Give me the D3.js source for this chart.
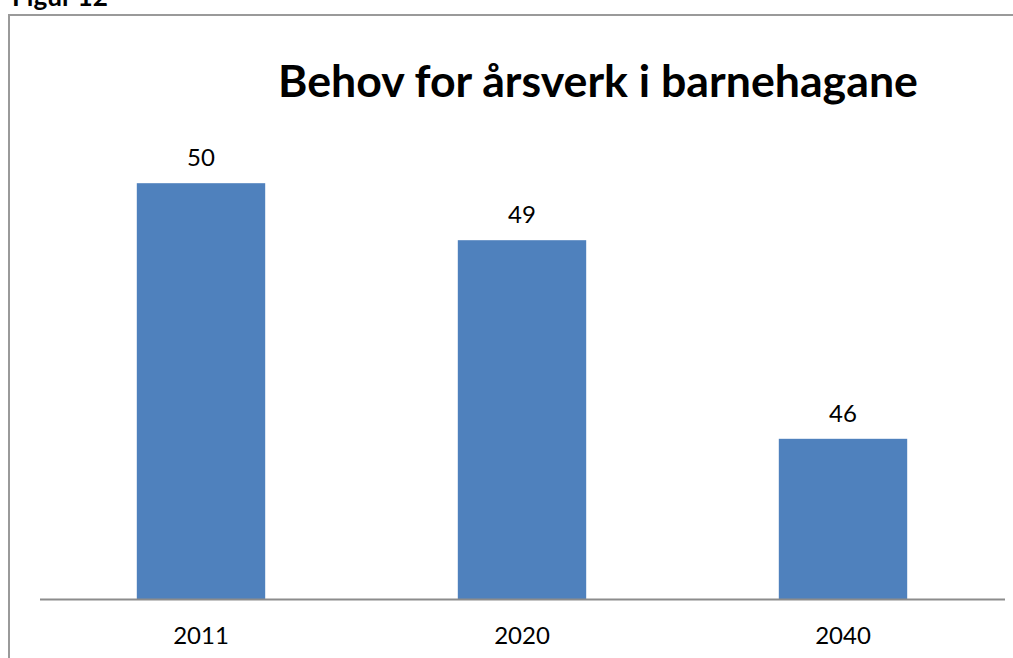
<!DOCTYPE html>
<html><head><meta charset="utf-8">
<script src="https://cdn.jsdelivr.net/npm/d3@7/dist/d3.min.js"></script>
<style>html,body{margin:0;padding:0;background:#fff;}</style>
</head><body>
<svg id="c" width="1013" height="658"></svg>
<script>
const categories = ["2011", "2020", "2040"];
const values = [49.93, 48.98, 45.67];
const valueLabels = ["50", "49", "46"];
const title = "Behov for årsverk i barnehagane";
const figLabel = "Figur 12";

const svg = d3.select("#c");
const font = "Lato, 'Open Sans', sans-serif";

// frame
svg.append("path").attr("d","M9,658 V15 H1013").attr("fill","none").attr("stroke","#9a9a9a").attr("stroke-width",2);
const fl = svg.append("text").attr("x",12).attr("y",6).attr("font-family",font).attr("font-weight","bold")
  .attr("font-size",26).attr("fill","#000").text(figLabel);
fl.attr("font-size",26*96/fl.node().getComputedTextLength());

const x = d3.scaleBand().domain(categories).range([40.5,1003.5]).paddingInner(0.6).paddingOuter(0.3);
const y = d3.scaleLinear().domain([43,51]).range([599,119]);

svg.selectAll("rect.bar").data(values).join("rect").attr("class","bar")
  .attr("x",(d,i)=>x(categories[i])).attr("width",x.bandwidth())
  .attr("y",d=>y(d)).attr("height",d=>y(43)-y(d)).attr("fill","#4F81BD");

// axis
const ax = svg.append("g").attr("transform","translate(0,599)").call(d3.axisBottom(x).tickSize(0).tickPadding(0));
ax.select(".domain").attr("d","M40,0.5H1005").attr("stroke","#8c8c8c").attr("stroke-width",2);
ax.selectAll(".tick text").attr("font-family",font).attr("font-size",24).attr("fill","#000")
  .attr("dy",null).attr("y",45);

svg.selectAll("text.vl").data(values).join("text").attr("class","vl")
  .attr("x",(d,i)=>x(categories[i])+x.bandwidth()/2).attr("y",d=>y(d)-17)
  .attr("text-anchor","middle").attr("font-family",font).attr("font-size",24).attr("fill","#000")
  .text((d,i)=>valueLabels[i]);

const t = svg.append("text").attr("x",598).attr("y",97).attr("text-anchor","middle")
  .attr("font-family",font).attr("font-weight","bold").attr("font-size",46).attr("fill","#000").text(title);
const w = t.node().getComputedTextLength();
t.attr("font-size",46*640/w);
</script>
</body></html>
